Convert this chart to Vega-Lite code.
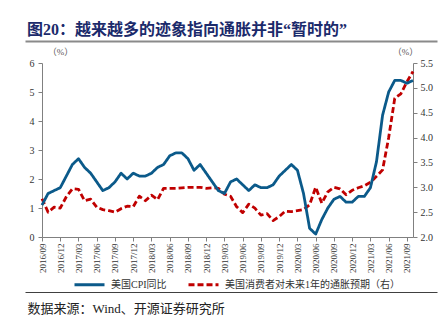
{
  "$schema": "https://vega.github.io/schema/vega-lite/v6.json",
  "width": 371,
  "height": 174,
  "autosize": {"type": "none"},
  "padding": {"left": 42, "top": 63, "right": 35, "bottom": 88},
  "background": "white",
  "config": {"view": {"stroke": null}, "font": "Liberation Serif, Noto Sans CJK SC"},
  "title": {
    "text": "图20：越来越多的迹象指向通胀并非“暂时的”",
    "anchor": "start",
    "frame": "group",
    "dx": -15,
    "offset": 3,
    "fontSize": 16,
    "fontWeight": "bold",
    "color": "#1b2a6b",
    "font": "Liberation Serif, Noto Sans CJK SC"
  },
  "data": {
    "values": [
      {"month": "2016/09", "cpi": 1.1, "exp": 2.77},
      {"month": "2016/10", "cpi": 1.5, "exp": 2.50},
      {"month": "2016/11", "cpi": 1.6, "exp": 2.60},
      {"month": "2016/12", "cpi": 1.7, "exp": 2.58},
      {"month": "2017/01", "cpi": 2.1, "exp": 2.81},
      {"month": "2017/02", "cpi": 2.5, "exp": 2.97},
      {"month": "2017/03", "cpi": 2.7, "exp": 2.96},
      {"month": "2017/04", "cpi": 2.4, "exp": 2.73},
      {"month": "2017/05", "cpi": 2.2, "exp": 2.76},
      {"month": "2017/06", "cpi": 1.9, "exp": 2.60},
      {"month": "2017/07", "cpi": 1.6, "exp": 2.55},
      {"month": "2017/08", "cpi": 1.7, "exp": 2.53},
      {"month": "2017/09", "cpi": 1.9, "exp": 2.50},
      {"month": "2017/10", "cpi": 2.2, "exp": 2.57},
      {"month": "2017/11", "cpi": 2.0, "exp": 2.62},
      {"month": "2017/12", "cpi": 2.2, "exp": 2.61},
      {"month": "2018/01", "cpi": 2.1, "exp": 2.82},
      {"month": "2018/02", "cpi": 2.1, "exp": 2.73},
      {"month": "2018/03", "cpi": 2.2, "exp": 2.84},
      {"month": "2018/04", "cpi": 2.4, "exp": 2.75},
      {"month": "2018/05", "cpi": 2.5, "exp": 2.98},
      {"month": "2018/06", "cpi": 2.8, "exp": 2.98},
      {"month": "2018/07", "cpi": 2.9, "exp": 2.98},
      {"month": "2018/08", "cpi": 2.9, "exp": 2.99},
      {"month": "2018/09", "cpi": 2.7, "exp": 3.00},
      {"month": "2018/10", "cpi": 2.3, "exp": 3.00},
      {"month": "2018/11", "cpi": 2.5, "exp": 3.00},
      {"month": "2018/12", "cpi": 2.2, "exp": 2.98},
      {"month": "2019/01", "cpi": 1.9, "exp": 2.99},
      {"month": "2019/02", "cpi": 1.6, "exp": 2.98},
      {"month": "2019/03", "cpi": 1.5, "exp": 2.86},
      {"month": "2019/04", "cpi": 1.9, "exp": 2.82},
      {"month": "2019/05", "cpi": 2.0, "exp": 2.61},
      {"month": "2019/06", "cpi": 1.8, "exp": 2.49},
      {"month": "2019/07", "cpi": 1.6, "exp": 2.66},
      {"month": "2019/08", "cpi": 1.8, "exp": 2.58},
      {"month": "2019/09", "cpi": 1.7, "exp": 2.44},
      {"month": "2019/10", "cpi": 1.7, "exp": 2.47},
      {"month": "2019/11", "cpi": 1.8, "exp": 2.33},
      {"month": "2019/12", "cpi": 2.1, "exp": 2.41},
      {"month": "2020/01", "cpi": 2.3, "exp": 2.52},
      {"month": "2020/02", "cpi": 2.5, "exp": 2.51},
      {"month": "2020/03", "cpi": 2.3, "exp": 2.53},
      {"month": "2020/04", "cpi": 1.5, "exp": 2.55},
      {"month": "2020/05", "cpi": 0.3, "exp": 2.65},
      {"month": "2020/06", "cpi": 0.1, "exp": 3.00},
      {"month": "2020/07", "cpi": 0.6, "exp": 2.68},
      {"month": "2020/08", "cpi": 1.0, "exp": 2.91},
      {"month": "2020/09", "cpi": 1.3, "exp": 3.00},
      {"month": "2020/10", "cpi": 1.4, "exp": 2.97},
      {"month": "2020/11", "cpi": 1.2, "exp": 2.85},
      {"month": "2020/12", "cpi": 1.2, "exp": 2.94},
      {"month": "2021/01", "cpi": 1.4, "exp": 2.99},
      {"month": "2021/02", "cpi": 1.4, "exp": 3.03},
      {"month": "2021/03", "cpi": 1.7, "exp": 3.10},
      {"month": "2021/04", "cpi": 2.6, "exp": 3.22},
      {"month": "2021/05", "cpi": 4.2, "exp": 3.35},
      {"month": "2021/06", "cpi": 5.0, "exp": 4.00},
      {"month": "2021/07", "cpi": 5.4, "exp": 4.79},
      {"month": "2021/08", "cpi": 5.4, "exp": 4.88},
      {"month": "2021/09", "cpi": 5.3, "exp": 5.12},
      {"month": "2021/10", "cpi": 5.4, "exp": 5.33}
    ]
  },
  "transform": [{"fold": ["cpi", "exp"], "as": ["series", "value"]}],
  "layer": [
    {
      "transform": [{"filter": "datum.series === 'exp'"}],
      "mark": {"type": "line", "strokeWidth": 2.8, "strokeJoin": "round"},
      "encoding": {
        "x": {"field": "month", "type": "ordinal", "scale": {"type": "point", "padding": 0}, "axis": null},
        "y": {
          "field": "value", "type": "quantitative",
          "scale": {"domain": [2, 5.5], "nice": false, "zero": false},
          "axis": {
            "orient": "right", "values": [2, 2.5, 3, 3.5, 4, 4.5, 5, 5.5], "format": ".1f",
            "grid": false, "tickSize": 4, "labelPadding": 3, "labelFontSize": 10, "labelColor": "#333333",
            "labelFont": "Liberation Serif", "domainColor": "#808080", "tickColor": "#808080",
            "title": "（%）", "titleAngle": 0, "titleX": -8, "titleY": -12, "titleFontSize": 9,
            "titleFontWeight": "normal", "titleColor": "#555555", "titleAlign": "center", "titleBaseline": "middle"
          }
        },
        "color": {
          "field": "series", "type": "nominal",
          "scale": {"domain": ["cpi", "exp"], "range": ["#0b5a8a", "#c00000"]},
          "legend": {
            "orient": "none", "legendX": 31, "legendY": 205, "direction": "horizontal", "title": null,
            "symbolType": "stroke", "symbolSize": 900, "symbolStrokeWidth": 3, "labelFontSize": 10,
            "labelFont": "Liberation Serif, Noto Sans CJK SC", "labelColor": "#333333", "columnPadding": 15,
            "labelOffset": 5, "labelLimit": 0,
            "labelExpr": "datum.label === 'cpi' ? '美国CPI同比' : '美国消费者对未来1年的通胀预期（右）'"
          }
        },
        "strokeDash": {
          "field": "series", "type": "nominal",
          "scale": {"domain": ["cpi", "exp"], "range": [[1, 0], [6, 3]]},
          "legend": {
            "orient": "none", "legendX": 31, "legendY": 205, "direction": "horizontal", "title": null,
            "symbolType": "stroke", "symbolSize": 900, "symbolStrokeWidth": 3, "labelFontSize": 10,
            "labelFont": "Liberation Serif, Noto Sans CJK SC", "labelColor": "#333333", "columnPadding": 15,
            "labelOffset": 5, "labelLimit": 0,
            "labelExpr": "datum.label === 'cpi' ? '美国CPI同比' : '美国消费者对未来1年的通胀预期（右）'"
          }
        }
      }
    },
    {
      "transform": [{"filter": "datum.series === 'cpi'"}],
      "mark": {"type": "line", "strokeWidth": 2.8, "strokeJoin": "round"},
      "encoding": {
        "x": {
          "field": "month", "type": "ordinal", "scale": {"type": "point", "padding": 0},
          "axis": {
            "orient": "bottom",
            "values": ["2016/09", "2016/12", "2017/03", "2017/06", "2017/09", "2017/12", "2018/03", "2018/06", "2018/09", "2018/12", "2019/03", "2019/06", "2019/09", "2019/12", "2020/03", "2020/06", "2020/09", "2020/12", "2021/03", "2021/06", "2021/09"],
            "labelAngle": -90, "labelFontSize": 9, "labelFont": "Liberation Serif", "labelColor": "#333333",
            "labelPadding": 2, "labelOverlap": false, "tickSize": 4, "tickColor": "#808080", "domainColor": "#808080",
            "grid": false,
            "title": "数据来源：Wind、开源证券研究所", "titleFont": "Liberation Serif, Noto Sans CJK SC",
            "titleFontSize": 13, "titleFontWeight": "normal", "titleColor": "#222222",
            "titleAlign": "left", "titleBaseline": "middle", "titleAngle": 0, "titleX": -15, "titleY": 71
          }
        },
        "y": {
          "field": "value", "type": "quantitative",
          "scale": {"domain": [0, 6], "nice": false},
          "axis": {
            "orient": "left", "values": [0, 1, 2, 3, 4, 5, 6], "grid": false, "tickSize": 4, "labelPadding": 4,
            "labelFontSize": 10, "labelColor": "#333333", "labelFont": "Liberation Serif",
            "domainColor": "#808080", "tickColor": "#808080",
            "title": "（%）", "titleAngle": 0, "titleX": 18, "titleY": -12, "titleFontSize": 9,
            "titleFontWeight": "normal", "titleColor": "#555555", "titleAlign": "center", "titleBaseline": "middle"
          }
        },
        "color": {"field": "series", "type": "nominal"},
        "strokeDash": {"field": "series", "type": "nominal"}
      }
    },
    {
      "transform": [{"filter": "datum.series === 'cpi'"}],
      "mark": {"type": "line", "opacity": 0},
      "encoding": {
        "x": {
          "field": "month", "type": "ordinal", "scale": {"type": "point", "padding": 0, "range": [-17, 395]},
          "axis": {"orient": "top", "offset": 22, "labels": false, "ticks": false, "grid": false, "title": null, "domainColor": "#8a8a8a", "domainWidth": 2}
        },
        "y": {"field": "value", "type": "quantitative", "axis": null}
      }
    },
    {
      "transform": [{"filter": "datum.series === 'cpi'"}],
      "mark": {"type": "line", "opacity": 0},
      "encoding": {
        "x": {
          "field": "month", "type": "ordinal", "scale": {"type": "point", "padding": 0, "range": [-17, 395]},
          "axis": {"orient": "bottom", "offset": 55, "labels": false, "ticks": false, "grid": false, "title": null, "domainColor": "#404040", "domainWidth": 1.2}
        },
        "y": {"field": "value", "type": "quantitative", "axis": null}
      }
    }
  ],
  "resolve": {"scale": {"x": "independent", "y": "independent"}}
}
